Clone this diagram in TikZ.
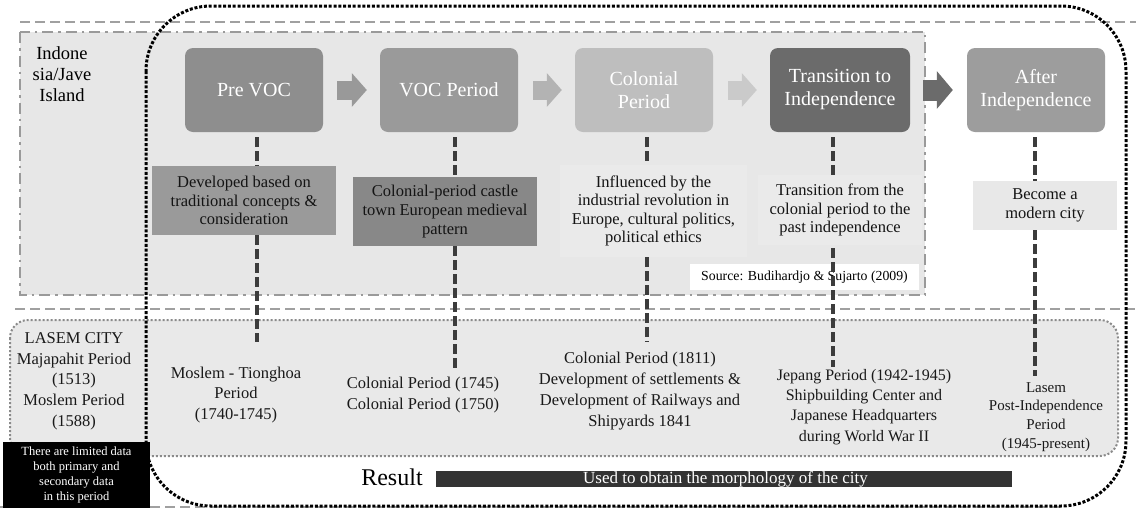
\documentclass[tikz,border=0pt]{standalone}
\usepackage{fontspec}
\setmainfont{Liberation Serif}
\usetikzlibrary{arrows.meta}
\definecolor{regionbg}{HTML}{E7E7E7}
\definecolor{regionline}{HTML}{9A9A9A}
\definecolor{dashline}{HTML}{A0A0A0}
\definecolor{connc}{HTML}{3C3C3C}
\definecolor{lasembg}{HTML}{E9E9E9}
\definecolor{lasemline}{HTML}{8A8A8A}
\definecolor{pA}{HTML}{8E8E8E}
\definecolor{pB}{HTML}{9A9A9A}
\definecolor{pC}{HTML}{BEBEBE}
\definecolor{pD}{HTML}{6B6B6B}
\definecolor{pE}{HTML}{9D9D9D}
\definecolor{aA}{HTML}{999999}
\definecolor{aB}{HTML}{B3B3B3}
\definecolor{aC}{HTML}{CACACA}
\definecolor{aD}{HTML}{6B6B6B}
\definecolor{dA}{HTML}{9A9A9A}
\definecolor{dB}{HTML}{888888}
\definecolor{faint}{HTML}{EAEAEA}
\definecolor{dE}{HTML}{E8E8E8}
\definecolor{barc}{HTML}{333333}
\begin{document}
\begin{tikzpicture}[x=1pt,y=-1pt,
  period/.style={rectangle, rounded corners=8pt, minimum width=138pt, minimum height=84pt,
    text=white, align=center, font=\fontsize{20}{23}\selectfont, inner sep=0pt},
  descbox/.style={rectangle, align=center, font=\fontsize{16.5}{18.6}\selectfont,
    inner sep=0pt, text=black!92},
  lowtext/.style={align=center, font=\fontsize{16.5}{20.7}\selectfont, inner sep=0pt, text=black!90},
  conn/.style={draw=connc, line width=3.2pt, dash pattern=on 10pt off 4pt},
  blockarrow/.style={line width=19pt, -{Triangle[length=15pt, width=33pt]}},
  bigarrow/.style={line width=21pt, -{Triangle[length=16pt, width=37pt]}},
]
\useasboundingbox (0,0) rectangle (1136,512);
\fill[white] (0,0) rectangle (1136,512);

% upper region (dash-dot)
\draw[fill=regionbg, draw=regionline, line width=2.5pt,
  dash pattern=on 11pt off 5pt on 2.5pt off 5pt] (20,32) rectangle (925,295);

% long dashed lines
\draw[dashline, line width=2.5pt, dash pattern=on 10pt off 5pt] (20,22) -- (1136,22);
\draw[dashline, line width=2.5pt, dash pattern=on 10pt off 5pt] (15,309) -- (1136,309);
\draw[dashline, line width=2.5pt, dash pattern=on 10pt off 5pt] (0,507) -- (1060,507);

% Lasem region
\draw[fill=lasembg, draw=lasemline, line width=2pt, dash pattern=on 2pt off 2pt,
  rounded corners=18pt] (10,320) rectangle (1118,456);

% big dotted rounded frame
\draw[black, line width=3pt, dash pattern=on 3pt off 1.8pt, rounded corners=65pt]
  (146,6) rectangle (1126,506);

% left labels
\node[align=center, font=\fontsize{18.5}{21}\selectfont, inner sep=0pt] (indo) at (62,74)
  {Indone\\sia/Jave\\Island};

% period boxes
\node[period, fill=pA] (prevoc) at (254,90) {Pre VOC};
\node[period, fill=pB] (voc) at (449,90) {VOC Period};
\node[period, fill=pC] (colonial) at (644,90) {Colonial\\Period};
\node[period, fill=pD, minimum width=140pt] (trans) at (840,90) {Transition to\\Independence};
\node[period, fill=pE] (after) at (1036,90) {After\\Independence};

% block arrows
\draw[blockarrow, draw=aA, shorten <=14pt, shorten >=13pt] (prevoc) -- (voc);
\draw[blockarrow, draw=aB, shorten <=15pt, shorten >=13pt] (voc) -- (colonial);
\draw[blockarrow, draw=aC, shorten <=15pt, shorten >=13pt] (colonial) -- (trans);
\draw[bigarrow, draw=aD, shorten <=13pt, shorten >=14pt] (trans) -- (after);

% description boxes
\node[descbox, fill=dA, minimum width=184pt, minimum height=69pt] (d1) at (244,200.5)
  {Developed based on\\traditional concepts \&\\consideration};
\node[descbox, fill=dB, minimum width=184pt, minimum height=69pt] (d2) at (445,211.5)
  {Colonial-period castle\\town European medieval\\pattern};
\node[descbox, fill=faint, minimum width=187pt, minimum height=92pt] (d3) at (653.5,211)
  {Influenced by the\\industrial revolution in\\Europe, cultural politics,\\political ethics};
\node[descbox, fill=faint, minimum width=164pt, minimum height=70pt] (d4) at (840,210)
  {Transition from the\\colonial period to the\\past independence};
\node[descbox, fill=dE, minimum width=144pt, minimum height=49pt] (d5) at (1045,205.5)
  {Become a\\modern city};

% source
\node[fill=white, minimum width=229pt, minimum height=26pt, inner sep=0pt,
  font=\fontsize{13.8}{16}\selectfont] (src) at (804.5,277) {Source: Budihardjo \& Sujarto (2009)};

% connector ends
\coordinate (e1) at (257,342);
\coordinate (e2) at (455,370);
\coordinate (e3) at (647,342);
\coordinate (e4) at (833,367);
\coordinate (e5) at (1035,376);

\draw[conn, shorten <=5pt] (prevoc.south -| e1) -- (d1.north -| e1);
\draw[conn] (d1.south -| e1) -- (e1);
\draw[conn, shorten <=5pt] (voc.south -| e2) -- (d2.north -| e2);
\draw[conn] (d2.south -| e2) -- (e2);
\draw[conn, shorten <=5pt] (colonial.south -| e3) -- (d3.north -| e3);
\draw[conn] (d3.south -| e3) -- (e3);
\draw[conn, shorten <=5pt] (trans.south -| e4) -- (d4.north -| e4);
\draw[conn, shorten <=3pt] (d4.south -| e4) -- (e4);
\draw[conn, shorten <=5pt] (after.south -| e5) -- (d5.north -| e5);
\draw[conn] (d5.south -| e5) -- (e5);

% lower texts
\node[lowtext] (lasem) at (74,381) {LASEM CITY\\Majapahit Period\\(1513)\\Moslem Period\\(1588)};
\node[lowtext] (l1) at (236,395) {Moslem - Tionghoa\\Period\\(1740-1745)};
\node[lowtext] (l2) at (423,395) {Colonial Period (1745)\\Colonial Period (1750)};
\node[lowtext] (l3) at (640,391) {Colonial Period (1811)\\Development of settlements \&\\Development of Railways and\\Shipyards 1841};
\node[lowtext, font=\fontsize{16}{20.3}\selectfont] (l4) at (864,407) {Jepang Period (1942-1945)\\Shipbuilding Center and\\Japanese Headquarters\\during World War II};
\node[lowtext, font=\fontsize{15}{18.7}\selectfont] (l5) at (1046,417) {Lasem\\Post-Independence\\Period\\(1945-present)};

% black note box
\node[fill=black, text=white, minimum width=147pt, minimum height=66pt, inner sep=0pt,
  align=center, font=\fontsize{12.5}{15}\selectfont] (note) at (76.5,475)
  {There are limited data\\both primary and\\secondary data\\in this period};

% result
\node[inner sep=0pt, font=\fontsize{24}{26}\selectfont] (res) at (392,477) {Result};
\node[fill=barc, minimum width=576pt, minimum height=16pt, inner sep=0pt] (bar) at (724,479) {};
\node[text=white, inner sep=0pt, font=\fontsize{17}{19}\selectfont] (bartext) at (725.5,479)
  {Used to obtain the morphology of the city};
\end{tikzpicture}
\end{document}
